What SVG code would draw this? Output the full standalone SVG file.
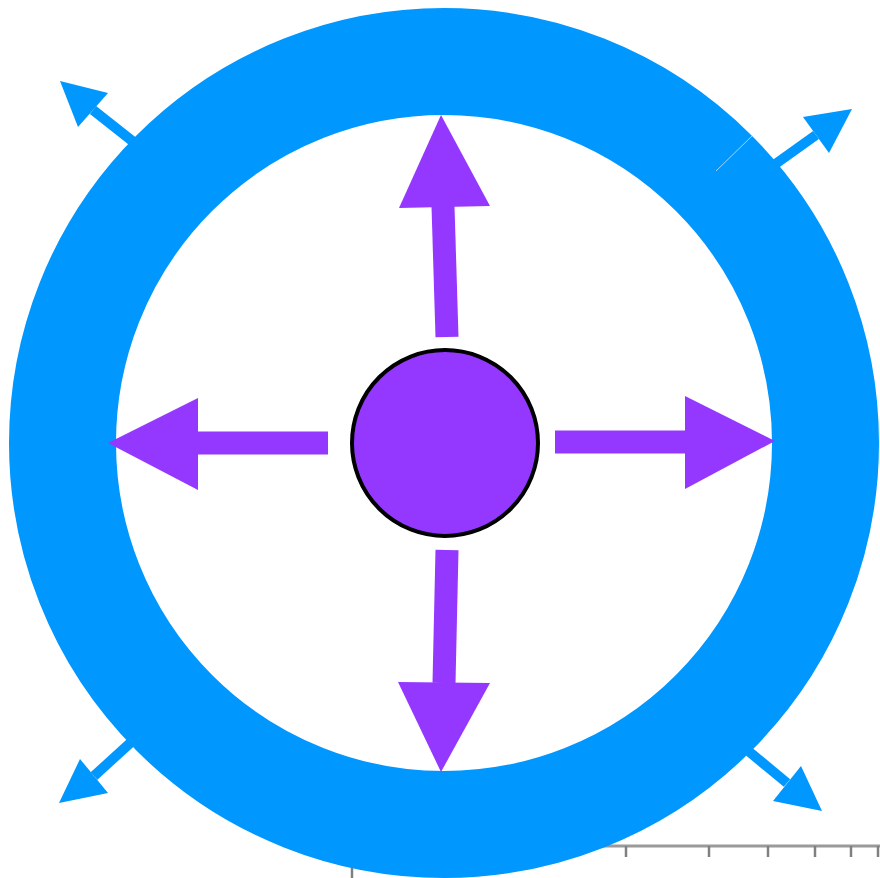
<svg xmlns="http://www.w3.org/2000/svg" width="880" height="878" viewBox="0 0 880 878">
<style>
.ruler{stroke:#9a9a9a;stroke-width:3;fill:none}
.tick{stroke:#808080;stroke-width:2.5;fill:none}
.bshaft{stroke:#0097ff;stroke-width:10;fill:none}
.bhead{fill:#0097ff}
.pshaft{stroke:#9438ff;stroke-width:23;fill:none}
.phead{fill:#9438ff}
</style>
<rect width="880" height="878" fill="#ffffff"/>
<g id="ruler">
<line class="ruler" x1="600" y1="846" x2="880" y2="846"/>
<line class="tick" x1="626" y1="846" x2="626" y2="857"/>
<line class="tick" x1="709" y1="846" x2="709" y2="857"/>
<line class="tick" x1="768" y1="846" x2="768" y2="857"/>
<line class="tick" x1="815" y1="846" x2="815" y2="857"/>
<line class="tick" x1="851" y1="846" x2="851" y2="857"/>
<line class="tick" x1="878" y1="846" x2="878" y2="857"/>
<line class="tick" x1="352" y1="867" x2="352" y2="878"/>
</g>
<g id="connectors">
<line class="bshaft" x1="150" y1="155" x2="93" y2="110"/>
<polygon class="bhead" points="60,81 108,93 78,127"/>
<line class="bshaft" x1="760" y1="175" x2="816" y2="135"/>
<polygon class="bhead" points="852,109 803,117 829,153"/>
<line class="bshaft" x1="150" y1="725" x2="94" y2="776"/>
<polygon class="bhead" points="59,803 80,759 108,793"/>
<line class="bshaft" x1="735" y1="740" x2="787" y2="783"/>
<polygon class="bhead" points="822,811 801,766 773,801"/>
</g>
<g id="ring">
<circle cx="444" cy="443" r="381.5" fill="none" stroke="#0097ff" stroke-width="107"/>
<line x1="752" y1="136" x2="716" y2="171" stroke="#ffffff" stroke-opacity="0.6" stroke-width="1"/>
</g>
<g id="purple-arrows">
<line class="pshaft" x1="447" y1="337" x2="443" y2="206"/>
<polygon class="phead" points="399,208 490,206 441,115"/>
<line class="pshaft" x1="447" y1="550" x2="444" y2="683"/>
<polygon class="phead" points="398,682 490,683 441,772"/>
<line class="pshaft" x1="328" y1="443" x2="197" y2="443"/>
<polygon class="phead" points="198,398 198,490 108,443"/>
<line class="pshaft" x1="555" y1="442" x2="686" y2="442"/>
<polygon class="phead" points="685,396 685,489 775,441"/>
</g>
<g id="center">
<circle cx="445" cy="443" r="93" fill="#9438ff" stroke="#000000" stroke-width="4"/>
</g>
</svg>
